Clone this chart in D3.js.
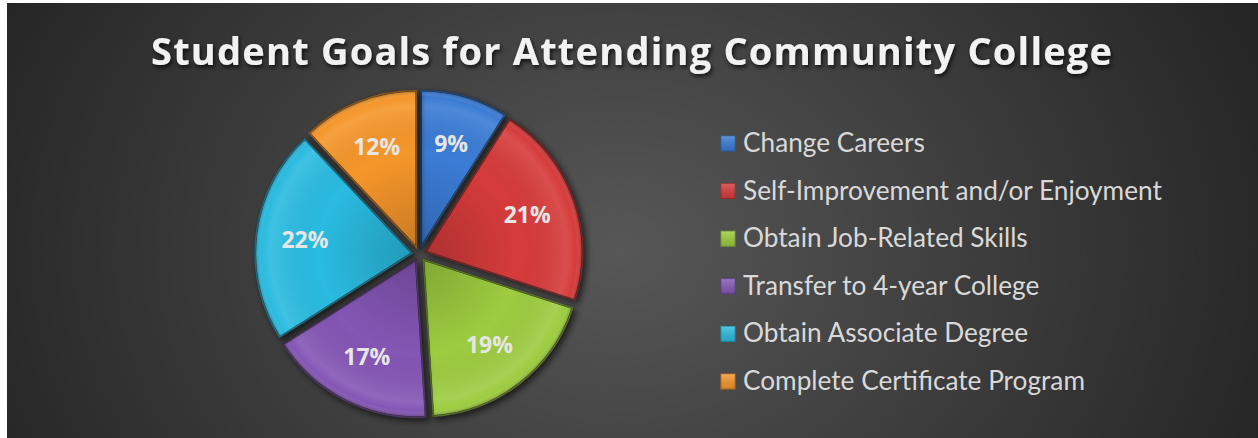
<!DOCTYPE html>
<head>
    <meta charset="utf-8">
    <title>Student Goals for Attending Community College</title>
    <script src="https://d3js.org/d3.v7.min.js"></script>
    <style>
        body { margin: 0; background: #ffffff; }
        svg { display: block; }
    </style>
</head>
<body>
    <svg class="chart" width="1258" height="438"></svg>
    <script>
        // chart data
        var goals = ["Change Careers", "Self-Improvement and/or Enjoyment", "Obtain Job-Related Skills",
                     "Transfer to 4-year College", "Obtain Associate Degree", "Complete Certificate Program"];
        var shares = [9, 21, 19, 17, 22, 12];
        var sliceColors = ["#3a7bd5", "#d63a3a", "#9dcc3f", "#8457b5", "#2cbbe0", "#f5962a"];
        var titleText = "Student Goals for Attending Community College";

        var W = 1258, H = 438;
        var cx = 419, cy = 254, radius = 157, explode = 7;

        var svg = d3.select("svg");
        var defs = svg.append("defs");

        // dark background with a soft light spot in the middle
        var bg = defs.append("radialGradient").attr("id", "bg")
            .attr("gradientUnits", "userSpaceOnUse")
            .attr("cx", 620).attr("cy", 250).attr("r", 680)
            .attr("gradientTransform", "translate(620,250) scale(1,0.8) translate(-620,-250)");
        bg.append("stop").attr("offset", "0").attr("stop-color", "#575757");
        bg.append("stop").attr("offset", "0.55").attr("stop-color", "#3c3c3c");
        bg.append("stop").attr("offset", "1").attr("stop-color", "#262626");

        svg.append("rect").attr("x", 7).attr("y", 3).attr("width", W - 7).attr("height", H - 3)
            .attr("fill", "url(#bg)");

        // shadows
        var sh = defs.append("filter").attr("id", "shadow").attr("x", "-20%").attr("y", "-20%")
            .attr("width", "140%").attr("height", "140%");
        sh.append("feDropShadow").attr("dx", 3).attr("dy", 3).attr("stdDeviation", 3)
            .attr("flood-color", "#000").attr("flood-opacity", 0.6);
        var tsh = defs.append("filter").attr("id", "tshadow").attr("x", "-5%").attr("y", "-30%")
            .attr("width", "110%").attr("height", "160%");
        tsh.append("feDropShadow").attr("dx", 1.5).attr("dy", 2.5).attr("stdDeviation", 2)
            .attr("flood-color", "#000").attr("flood-opacity", 0.75);

        // bevel-ish overlay for slices
        var bev = defs.append("radialGradient").attr("id", "bevel")
            .attr("gradientUnits", "userSpaceOnUse").attr("cx", 0).attr("cy", 0).attr("r", radius);
        bev.append("stop").attr("offset", "0").attr("stop-color", "#000").attr("stop-opacity", 0.18);
        bev.append("stop").attr("offset", "0.6").attr("stop-color", "#000").attr("stop-opacity", 0.0);
        bev.append("stop").attr("offset", "0.9").attr("stop-color", "#fff").attr("stop-opacity", 0.1);
        bev.append("stop").attr("offset", "0.96").attr("stop-color", "#fff").attr("stop-opacity", 0.0);
        bev.append("stop").attr("offset", "1").attr("stop-color", "#000").attr("stop-opacity", 0.3);

        var lightTop = defs.append("linearGradient").attr("id", "lightTop")
            .attr("x1", 0).attr("y1", 0).attr("x2", 0).attr("y2", 1);
        lightTop.append("stop").attr("offset", "0").attr("stop-color", "#fff").attr("stop-opacity", 0.18);
        lightTop.append("stop").attr("offset", "1").attr("stop-color", "#000").attr("stop-opacity", 0.12);

        // title
        var title = svg.append("text")
            .attr("x", 151).attr("y", 65)
            .attr("font-family", "'Open Sans', sans-serif")
            .attr("font-weight", "bold").attr("font-size", 38)
            .attr("fill", "#f2f2f2").attr("filter", "url(#tshadow)")
            .attr("textLength", 961).attr("lengthAdjust", "spacing")
            .text(titleText);

        // pie
        var pie = d3.pie().sort(null).value(function(d){ return d; });
        var arc = d3.arc().innerRadius(0).outerRadius(radius);
        var arcs = pie(shares);

        var pieG = svg.append("g").attr("transform", "translate(" + cx + "," + cy + ")");

        var slice = pieG.selectAll("g.slice").data(arcs).enter().append("g")
            .attr("class", "slice")
            .attr("transform", function(d){
                var a = (d.startAngle + d.endAngle) / 2;
                return "translate(" + (Math.sin(a) * explode) + "," + (-Math.cos(a) * explode) + ")";
            });

        slice.append("path")
            .attr("d", arc)
            .attr("fill", function(d, i){ return sliceColors[i]; })
            .attr("stroke", "#2a2a2a").attr("stroke-width", 2)
            .attr("filter", "url(#shadow)");
        slice.append("path")
            .attr("d", arc)
            .attr("fill", "url(#bevel)");
        slice.append("path")
            .attr("d", arc)
            .attr("fill", "none")
            .attr("stroke", function(d, i){ return d3.color(sliceColors[i]).darker(1.2); })
            .attr("stroke-width", 1.5).attr("stroke-opacity", 0.8);

        var labelArc = d3.arc().innerRadius(108).outerRadius(108);
        slice.append("text")
            .attr("transform", function(d){ return "translate(" + labelArc.centroid(d) + ")"; })
            .attr("text-anchor", "middle").attr("dy", "0.36em")
            .attr("font-family", "'Open Sans', sans-serif")
            .attr("font-weight", "bold").attr("font-size", 23)
            .attr("fill", "#e6e6e6")
            .text(function(d){ return d.data + "%"; });

        // legend
        var legend = svg.append("g").attr("transform", "translate(721,0)");
        var rowY = d3.scalePoint().domain(goals).range([152, 390]);

        var item = legend.selectAll("g").data(goals).enter().append("g")
            .attr("transform", function(d){ return "translate(0," + rowY(d) + ")"; });

        item.append("rect")
            .attr("x", 0).attr("y", -16).attr("width", 14).attr("height", 15)
            .attr("fill", function(d, i){ return sliceColors[i]; })
            .attr("stroke", function(d, i){ return d3.color(sliceColors[i]).darker(0.8); })
            .attr("stroke-width", 1);
        item.append("rect")
            .attr("x", 0).attr("y", -16).attr("width", 14).attr("height", 15)
            .attr("fill", "url(#lightTop)");

        var labels = item.append("text")
            .attr("x", 22).attr("y", 0)
            .attr("font-family", "Lato, 'Open Sans', sans-serif")
            .attr("font-size", 25)
            .attr("fill", "#d9d9d9")
            .text(function(d){ return d; });

        // fit the legend font so the longest entry is as wide as in the picture
        var longest = labels.filter(function(d){ return d === goals[1]; }).node();
        var w = longest.getComputedTextLength();
        var fs = 25 * 419 / w;
        labels.attr("font-size", fs);
    </script>
</body>
